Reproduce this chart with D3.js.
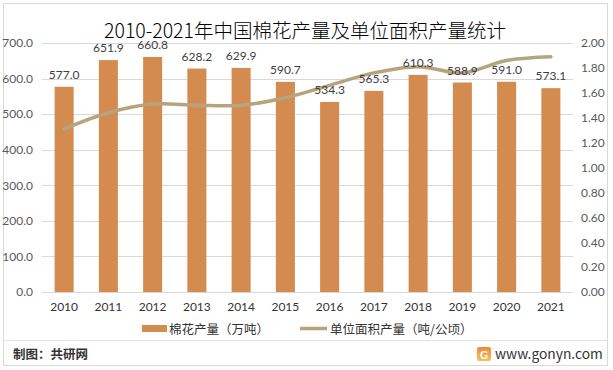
<!DOCTYPE html>
<html><head><meta charset="utf-8">
<script src="https://cdn.jsdelivr.net/npm/d3@7"></script>
<style>
html,body{margin:0;padding:0;background:#fff;}
svg{display:block;}
</style>
</head><body>
<svg id="c" width="613" height="370"></svg>
<script>
const years = ["2010","2011","2012","2013","2014","2015","2016","2017","2018","2019","2020","2021"];
const output = [577.0,651.9,660.8,628.2,629.9,590.7,534.3,565.3,610.3,588.9,591.0,573.1];
const yieldPerArea = [1.31,1.44,1.51,1.50,1.50,1.56,1.66,1.76,1.81,1.76,1.86,1.89];
const leftTicks = [0,100,200,300,400,500,600,700];
const rightTicks = [0,0.2,0.4,0.6,0.8,1.0,1.2,1.4,1.6,1.8,2.0];
const title = "2010-2021年中国棉花产量及单位面积产量统计";
const legendNames = ["棉花产量（万吨）","单位面积产量（吨/公顷）"];
const sourceText = "制图：共研网";
const siteText = "www.gonyn.com";

const svg = d3.select("#c");
const numFont = "Lato, 'Noto Sans CJK SC', sans-serif";
const cjkFont = "'Noto Sans CJK SC', sans-serif";

// frame
svg.append("rect").attr("x",3.5).attr("y",3.5).attr("width",604).attr("height",362)
  .attr("fill","#fff").attr("stroke","#d9d9d9").attr("stroke-width",1);

const x = d3.scaleBand().domain(years).range([42,573]).paddingInner(0.57).paddingOuter(0.285);
const yL = d3.scaleLinear().domain([0,700]).range([292,43]);
const yR = d3.scaleLinear().domain([0,2]).range([292,43]);

// gridlines
svg.append("g").selectAll("line").data(leftTicks).join("line")
  .attr("x1",42).attr("x2",573)
  .attr("y1",d=>Math.round(yL(d))+0.5).attr("y2",d=>Math.round(yL(d))+0.5)
  .attr("stroke","#d9d9d9").attr("stroke-width",1);

// left axis
const gL = svg.append("g").attr("transform","translate(33,0)")
  .call(d3.axisLeft(yL).tickValues(leftTicks).tickFormat(d3.format(".1f")).tickSize(0).tickPadding(0));
gL.select(".domain").remove();
gL.selectAll("text").attr("font-family",numFont).attr("font-size",12).attr("fill","#595959");

// right axis
const gR = svg.append("g").attr("transform","translate(581,0)")
  .call(d3.axisRight(yR).tickValues(rightTicks).tickFormat(d3.format(".2f")).tickSize(0).tickPadding(0));
gR.select(".domain").remove();
gR.selectAll("text").attr("font-family",numFont).attr("font-size",12).attr("fill","#595959");

// x axis
const gX = svg.append("g").attr("transform","translate(0,302)")
  .call(d3.axisBottom(x).tickSize(0).tickPadding(0));
gX.select(".domain").remove();
gX.selectAll("text").attr("font-family",numFont).attr("font-size",12).attr("fill","#333");

// bars
svg.append("g").selectAll("rect").data(output).join("rect")
  .attr("x",(d,i)=>x(years[i])).attr("width",x.bandwidth())
  .attr("y",d=>yL(d)).attr("height",d=>yL(0)-yL(d))
  .attr("fill","#D48B4F");

// line
const line = d3.line().x((d,i)=>x(years[i])+x.bandwidth()/2).y(d=>yR(d)).curve(d3.curveCatmullRom.alpha(0.5));
svg.append("path").datum(yieldPerArea).attr("d",line)
  .attr("fill","none").attr("stroke","#B7A47F").attr("stroke-width",3.5).attr("stroke-linecap","round");

// data labels
svg.append("g").selectAll("text").data(output).join("text")
  .attr("x",(d,i)=>x(years[i])+x.bandwidth()/2).attr("y",d=>yL(d)-8)
  .attr("text-anchor","middle").attr("font-family",numFont).attr("font-size",12).attr("fill","#404040")
  .text(d=>d.toFixed(1));

// title
svg.append("text").attr("x",305).attr("y",37.5).attr("text-anchor","middle")
  .attr("font-family",cjkFont).attr("font-size",19.5).attr("font-weight",300).attr("fill","#000").text(title);

// legend
const lg = svg.append("g");
lg.append("rect").attr("x",142).attr("y",325).attr("width",25).attr("height",7).attr("fill","#D48B4F");
lg.append("text").attr("x",169).attr("y",333.5).attr("font-family",cjkFont).attr("font-size",12.5).attr("fill","#333").text(legendNames[0]);
lg.append("line").attr("x1",300).attr("x2",327).attr("y1",328.5).attr("y2",328.5).attr("stroke","#B7A47F").attr("stroke-width",3.5);
lg.append("text").attr("x",330).attr("y",333.5).attr("font-family",cjkFont).attr("font-size",12.5).attr("fill","#333").text(legendNames[1]);

// separator
svg.append("line").attr("x1",4).attr("x2",607).attr("y1",340.5).attr("y2",340.5).attr("stroke","#e3e3e3").attr("stroke-width",1);

// footer
svg.append("text").attr("x",13).attr("y",359).attr("font-family",cjkFont).attr("font-size",12.5).attr("font-weight","bold").attr("fill","#333").text(sourceText);
const defs = svg.append("defs");
const grad = defs.append("linearGradient").attr("id","lg1").attr("x1","0").attr("y1","0").attr("x2","0").attr("y2","1");
grad.append("stop").attr("offset","0").attr("stop-color","#f08a3c");
grad.append("stop").attr("offset","1").attr("stop-color","#f6c15a");
svg.append("rect").attr("x",477).attr("y",347).attr("width",14).attr("height",14).attr("rx",2).attr("fill","url(#lg1)");
svg.append("text").attr("x",484).attr("y",358.5).attr("text-anchor","middle").attr("font-family",numFont).attr("font-weight","bold").attr("font-size",11).attr("fill","#fff").text("G");
svg.append("text").attr("x",495).attr("y",359).attr("font-family",cjkFont).attr("font-size",13.8).attr("fill","#333").text(siteText);
</script>
</body></html>
